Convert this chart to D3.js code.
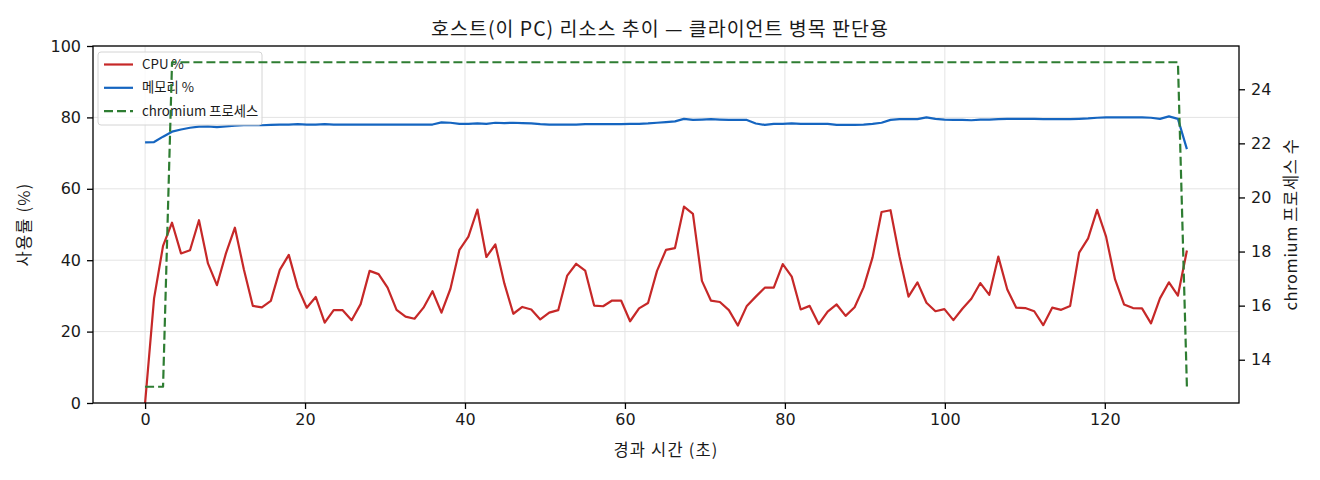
<!DOCTYPE html>
<html>
<head>
<meta charset="utf-8">
<script src="https://cdn.jsdelivr.net/npm/d3@7/dist/d3.min.js"></script>
<style>
    body { margin: 0; background: #fff; }
    svg text { font-family: "Noto Sans CJK KR", "Noto Sans", sans-serif; fill: #1a1a1a; }
    svg .tick text { font-family: "DejaVu Sans", sans-serif; }
</style>
</head>
<body>
<svg id="chart" width="1320" height="480"></svg>
<script>
// Sampled once per ~1.12 s by the monitor
var SAMPLE_INTERVAL = 1.123;

var CPU_PCT = [
    0, 29.3, 44.0, 50.5, 41.9, 42.8, 51.2, 39.1, 33.0, 41.9,
    49.1, 37.4, 27.2, 26.8, 28.6, 37.3, 41.5, 32.4, 26.7, 29.7,
    22.5, 26.0, 26.0, 23.2, 27.7, 37.0, 36.1, 32.3, 26.1, 24.2,
    23.6, 26.7, 31.3, 25.3, 32.0, 42.9, 46.6, 54.2, 40.9, 44.4,
    33.5, 25.0, 26.9, 26.2, 23.4, 25.3, 26.0, 35.7, 39.0, 37.1,
    27.3, 27.1, 28.7, 28.7, 22.9, 26.5, 28.0, 37.0, 42.9, 43.4,
    55.0, 53.0, 34.2, 28.7, 28.3, 26.0, 21.7, 27.2, 29.8, 32.3,
    32.3, 38.9, 35.4, 26.2, 27.2, 22.1, 25.6, 27.6, 24.4, 26.8,
    32.4, 40.8, 53.5, 54.0, 41.0, 29.8, 33.8, 28.1, 25.7, 26.3,
    23.2, 26.4, 29.2, 33.6, 30.3, 41.0, 31.8, 26.7, 26.6, 25.7,
    21.8, 26.7, 26.1, 27.2, 42.1, 46.1, 54.1, 46.6, 34.6, 27.6,
    26.6, 26.5, 22.3, 29.3, 33.8, 30.1, 42.7
];

var MEM_PCT = [
    73.0, 73.1, 74.6, 76.0, 76.6, 77.1, 77.4, 77.5, 77.3, 77.5,
    77.7, 77.8, 77.8, 77.8, 77.9, 78.0, 78.0, 78.1, 78.0, 78.0,
    78.1, 78.0, 78.0, 78.0, 78.0, 78.0, 78.0, 78.0, 78.0, 78.0,
    78.0, 78.0, 78.0, 78.6, 78.5, 78.2, 78.2, 78.3, 78.2, 78.5,
    78.4, 78.5, 78.4, 78.3, 78.1, 78.0, 78.0, 78.0, 78.0, 78.1,
    78.1, 78.1, 78.1, 78.1, 78.2, 78.2, 78.3, 78.5, 78.7, 78.9,
    79.6, 79.3, 79.4, 79.5, 79.4, 79.3, 79.3, 79.3, 78.3, 77.9,
    78.2, 78.2, 78.3, 78.2, 78.2, 78.2, 78.2, 77.9, 77.9, 77.9,
    78.0, 78.2, 78.5, 79.3, 79.5, 79.5, 79.5, 80.0, 79.6, 79.4,
    79.3, 79.3, 79.2, 79.4, 79.4, 79.5, 79.6, 79.6, 79.6, 79.6,
    79.5, 79.5, 79.5, 79.5, 79.6, 79.7, 79.9, 80.0, 80.0, 80.0,
    80.0, 80.0, 79.9, 79.6, 80.3, 79.6, 71.1
];

var CHROMIUM_PROCS = [
    13, 13, 13, 25, 25, 25, 25, 25, 25, 25, 25, 25, 25, 25, 25, 25, 25, 25, 25, 25,
    25, 25, 25, 25, 25, 25, 25, 25, 25, 25, 25, 25, 25, 25, 25, 25, 25, 25, 25, 25,
    25, 25, 25, 25, 25, 25, 25, 25, 25, 25, 25, 25, 25, 25, 25, 25, 25, 25, 25, 25,
    25, 25, 25, 25, 25, 25, 25, 25, 25, 25, 25, 25, 25, 25, 25, 25, 25, 25, 25, 25,
    25, 25, 25, 25, 25, 25, 25, 25, 25, 25, 25, 25, 25, 25, 25, 25, 25, 25, 25, 25,
    25, 25, 25, 25, 25, 25, 25, 25, 25, 25, 25, 25, 25, 25, 25, 25, 13
];

var X_TICKS = [0, 20, 40, 60, 80, 100, 120];
var PCT_TICKS = [0, 20, 40, 60, 80, 100];
var PROC_TICKS = [14, 16, 18, 20, 22, 24];

var SERIES = [
    { label: 'CPU %', color: '#c62828', dash: null },
    { label: '메모리 %', color: '#1565c0', dash: null },
    { label: 'chromium 프로세스', color: '#2e7d32', dash: '9,4' }
];

var TITLE = '호스트(이 PC) 리소스 추이 — 클라이언트 병목 판단용',
    X_LABEL = '경과 시간 (초)',
    Y_LABEL = '사용률 (%)',
    Y2_LABEL = 'chromium 프로세스 수';

var PLOT = { left: 93, right: 1239, top: 46, bottom: 403 },
    TICK_FONT = 16,
    LABEL_FONT = 16.5,
    LINE_WIDTH = 2.2;

function ChartBuilder() {}

ChartBuilder.prototype.build = function(svg) {
    this.rows = CPU_PCT.map(function(v, i) {
        return { t: i * SAMPLE_INTERVAL, cpu: v, mem: MEM_PCT[i], procs: CHROMIUM_PROCS[i] };
    });
    this._buildScales();

    this._buildGrid(svg);
    this._buildLine(svg, 'cpu', this.y, SERIES[0]);
    this._buildLine(svg, 'mem', this.y, SERIES[1]);
    this._buildLegend(svg);
    // twin axis sits above the legend, like the original
    this._buildLine(svg, 'procs', this.y2, SERIES[2]);
    this._buildAxes(svg);
    this._buildText(svg);
};

// matplotlib-like 5% padding around the data range
ChartBuilder.prototype._padded = function(extent) {
    var pad = (extent[1] - extent[0]) * 0.05;
    return [extent[0] - pad, extent[1] + pad];
};

ChartBuilder.prototype._buildScales = function() {
    this.x = d3.scaleLinear()
        .domain(this._padded(d3.extent(this.rows, function(d) { return d.t; })))
        .range([PLOT.left, PLOT.right]);
    this.y = d3.scaleLinear().domain([0, 100]).range([PLOT.bottom, PLOT.top]);
    this.y2 = d3.scaleLinear()
        .domain(this._padded(d3.extent(CHROMIUM_PROCS)))
        .range([PLOT.bottom, PLOT.top]);
};

ChartBuilder.prototype._buildGrid = function(svg) {
    var self = this;
    var g = svg.append('g').attr('stroke', '#e4e4e4').attr('stroke-width', 1);
    g.selectAll('line.gx').data(X_TICKS).enter().append('line')
        .attr('x1', function(d) { return self.x(d); })
        .attr('x2', function(d) { return self.x(d); })
        .attr('y1', PLOT.top).attr('y2', PLOT.bottom);
    g.selectAll('line.gy').data(PCT_TICKS).enter().append('line')
        .attr('x1', PLOT.left).attr('x2', PLOT.right)
        .attr('y1', function(d) { return self.y(d); })
        .attr('y2', function(d) { return self.y(d); });
};

ChartBuilder.prototype._buildLine = function(svg, key, yScale, style) {
    var self = this;
    var line = d3.line()
        .x(function(d) { return self.x(d.t); })
        .y(function(d) { return yScale(d[key]); });
    svg.append('path')
        .datum(this.rows)
        .attr('d', line)
        .attr('fill', 'none')
        .attr('stroke', style.color)
        .attr('stroke-width', LINE_WIDTH)
        .attr('stroke-linejoin', 'round')
        .attr('stroke-dasharray', style.dash);
};

ChartBuilder.prototype._buildLegend = function(svg) {
    var g = svg.append('g').attr('transform', 'translate(98,52)');
    g.append('rect')
        .attr('width', 164).attr('height', 73).attr('rx', 3)
        .attr('fill', '#fff').attr('fill-opacity', 0.8)
        .attr('stroke', '#d4d4d4');

    var item = g.selectAll('g.item').data(SERIES).enter().append('g')
        .attr('transform', function(d, i) { return 'translate(0,' + (12.5 + i * 23.3) + ')'; });
    item.append('line')
        .attr('x1', 6).attr('x2', 35)
        .attr('stroke', function(d) { return d.color; })
        .attr('stroke-width', LINE_WIDTH)
        .attr('stroke-dasharray', function(d) { return d.dash; });
    item.append('text')
        .attr('x', 44).attr('dy', '0.35em')
        .attr('font-size', 13.3)
        .text(function(d) { return d.label; });
};

ChartBuilder.prototype._styleAxis = function(g) {
    g.select('.domain').remove();
    g.selectAll('.tick line').attr('stroke', '#000').attr('stroke-width', 1.3);
    g.selectAll('.tick text')
        .attr('font-size', TICK_FONT)
        .attr('fill', '#1a1a1a');
};

ChartBuilder.prototype._buildAxes = function(svg) {
    svg.append('g')
        .attr('transform', 'translate(0,' + PLOT.bottom + ')')
        .call(d3.axisBottom(this.x).tickValues(X_TICKS).tickSize(6).tickPadding(5))
        .call(this._styleAxis);
    svg.append('g')
        .attr('transform', 'translate(' + PLOT.left + ',0)')
        .call(d3.axisLeft(this.y).tickValues(PCT_TICKS).tickSize(6).tickPadding(6))
        .call(this._styleAxis);
    svg.append('g')
        .attr('transform', 'translate(' + PLOT.right + ',0)')
        .call(d3.axisRight(this.y2).tickValues(PROC_TICKS).tickSize(6).tickPadding(6))
        .call(this._styleAxis);

    svg.append('rect')
        .attr('x', PLOT.left).attr('y', PLOT.top)
        .attr('width', PLOT.right - PLOT.left)
        .attr('height', PLOT.bottom - PLOT.top)
        .attr('fill', 'none')
        .attr('stroke', '#000')
        .attr('stroke-width', 1.3);
};

ChartBuilder.prototype._buildText = function(svg) {
    var midX = (PLOT.left + PLOT.right) / 2,
        midY = (PLOT.top + PLOT.bottom) / 2;

    svg.append('text')
        .attr('x', midX - 6).attr('y', 36)
        .attr('text-anchor', 'middle')
        .attr('font-size', 19.5)
        .attr('letter-spacing', 1)
        .text(TITLE);
    svg.append('text')
        .attr('x', midX).attr('y', 456)
        .attr('text-anchor', 'middle')
        .attr('font-size', LABEL_FONT)
        .attr('letter-spacing', 1.2)
        .text(X_LABEL);
    svg.append('text')
        .attr('transform', 'translate(30,' + midY + ') rotate(-90)')
        .attr('text-anchor', 'middle')
        .attr('font-size', LABEL_FONT)
        .attr('letter-spacing', 1.2)
        .text(Y_LABEL);
    svg.append('text')
        .attr('transform', 'translate(1297,' + midY + ') rotate(-90)')
        .attr('text-anchor', 'middle')
        .attr('font-size', LABEL_FONT)
        .attr('letter-spacing', 0.6)
        .text(Y2_LABEL);
};

new ChartBuilder().build(d3.select('#chart'));
</script>
</body>
</html>
